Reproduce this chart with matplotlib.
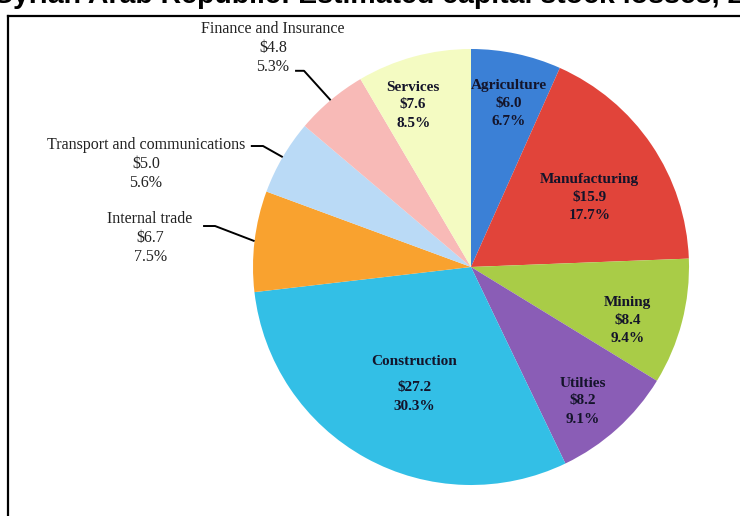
import numpy as np
import matplotlib
matplotlib.use("Agg")
import matplotlib.pyplot as plt
from matplotlib.lines import Line2D

# sector losses, billions of USD, clockwise from 12 o'clock
sectors = ["Agriculture", "Manufacturing", "Mining", "Utilties", "Construction",
           "Internal trade", "Transport and communications", "Finance and Insurance",
           "Services"]
losses = [6.0, 15.9, 8.4, 8.2, 27.2, 6.7, 5.0, 4.8, 7.6]
shares = ["6.7%", "17.7%", "9.4%", "9.1%", "30.3%", "7.5%", "5.6%", "5.3%", "8.5%"]

colors = ["#3b80d6", "#e1443a", "#a9cc47", "#8a5db6", "#33bfe6",
          "#f9a22f", "#badaf6", "#f8bab7", "#f4fbc2"]

R = 218  # pie radius in pixels
cx, cy = 471, 267

# inside labels: radius, angle tweak (deg), gap above value line (px)
inside = [True, True, True, True, True, False, False, False, True]
lab_r = [0.77, 0.63, 0.76, 0.80, 0.613, None, None, None, 0.79]
lab_dt = [-1.0, -3.6, -4.2, -2.2, 3.7, 0, 0, 0, 4.4]
name_gap = [17.5, 17.5, 18, 17.5, 26, 0, 0, 0, 17.5]
# outside labels: text centre and elbow of leader (data units, radius = 1)
out_text = {5: (-1.472, 0.133), 6: (-1.491, 0.472), 7: (-0.908, 1.006)}
out_leader = {5: [(-1.229, 0.188), (-1.174, 0.188)],
              6: [(-1.010, 0.555), (-0.954, 0.555)],
              7: [(-0.807, 0.900), (-0.766, 0.900)]}

fig = plt.figure(figsize=(7.4, 5.16), dpi=100)

# clipped title running off the top
fig.text(-0.008, 1 - 3 / 516, "Syrian Arab Republic: Estimated capital stock losses, 2011\u20132016",
         fontsize=20.5, fontweight="bold", family="Liberation Sans", va="baseline", ha="left")

# frame
top = 1 - 16 / 516
fig.add_artist(Line2D([8 / 740, 8 / 740], [0, top], color="black", lw=1.6))
fig.add_artist(Line2D([8 / 740, 1], [top, top], color="black", lw=1.6))

ax = fig.add_axes([(cx - R) / 740, (516 - cy - R) / 516, 2 * R / 740, 2 * R / 516])
wedges, _ = ax.pie(losses, colors=colors, startangle=90, counterclock=False,
                   radius=1, wedgeprops=dict(linewidth=0))
ax.set_xlim(-1, 1)
ax.set_ylim(-1, 1)
ax.set_aspect("equal")
ax.axis("off")

bold = dict(ha="center", va="center", fontsize=11, fontweight="bold",
            family="Liberation Serif", color="#14142a")

for i, w in enumerate(wedges):
    mid = np.deg2rad((w.theta1 + w.theta2) / 2)
    if inside[i]:
        a = mid + np.deg2rad(lab_dt[i])
        x, y = lab_r[i] * np.cos(a), lab_r[i] * np.sin(a)
        ax.text(x, y + name_gap[i] / R, sectors[i], **bold)
        ax.text(x, y, f"${losses[i]:.1f}", **bold)
        ax.text(x, y - 18.5 / R, shares[i], **bold)
    else:
        tx, ty = out_text[i]
        ax.text(tx, ty, f"{sectors[i]}\n${losses[i]:.1f}\n{shares[i]}",
                ha="center", va="center", fontsize=11.5,
                family="Liberation Serif", color="#222222", linespacing=1.25,
                clip_on=False)
        pts = out_leader[i] + [(np.cos(mid), np.sin(mid))]
        ax.plot([p[0] for p in pts], [p[1] for p in pts], color="black", lw=1.4,
                clip_on=False, solid_capstyle="butt")

fig.savefig("out.png", dpi=100)
